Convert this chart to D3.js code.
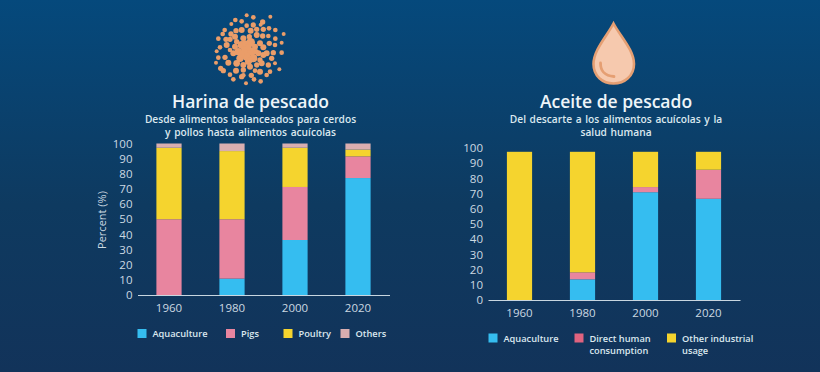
<!DOCTYPE html>
<html>
<head>
<meta charset="utf-8">
<script src="https://cdnjs.cloudflare.com/ajax/libs/d3/7.8.5/d3.min.js"></script>
<style>
  html, body { margin: 0; padding: 0; background: #0f3459; }
  svg { display: block; font-family: "Open Sans", sans-serif; }
</style>
</head>
<body>
<svg id="chart" width="820" height="372"></svg>
<script>
const years = ['1960', '1980', '2000', '2020']
const yTicks = [0, 10, 20, 30, 40, 50, 60, 70, 80, 90, 100]

// left chart, share of each use in percent
const mealKeys = ['Aquaculture', 'Pigs', 'Poultry', 'Others']
const mealAquaculture = [0, 10.8, 36.3, 77.2]
const mealPigs = [50, 39.2, 35, 14.3]
const mealPoultry = [47.2, 45, 25.9, 4.5]
const mealOthers = [2.8, 5, 2.8, 4]

// right chart
const oilKeys = ['Aquaculture', 'Direct human', 'Other industrial']
const oilAquaculture = [0, 13.6, 70.9, 66.6]
const oilHuman = [0, 4.6, 3.4, 19.1]
const oilIndustrial = [97.5, 79.3, 23.2, 11.8]

const mealColors = ['#35bdf0', '#e8859f', '#f5d42e', '#d9aeb0']
const oilColors = ['#35bdf0', '#e8859f', '#f5d42e']
const legendOilColors = ['#35bdf0', '#e0637f', '#f5d42e']

// fish meal icon, dots as [x, y, r] at 3x
const mealDots = [
  [110,16,6],[130,22,7],[181,20,6],[76,30,7],[95,34,7],[64,42,6],[158,36,8],[130,45,8],[110,47,7],[152,44,6],
  [177,55,7],[196,60,7],[221,72,6],[44,60,7],[38,72,7],[63,72,8],[78,62,8],[95,60,9],[122,62,9],[140,58,8],
  [160,58,8],[25,86,7],[48,88,8],[60,88,8],[75,80,9],[140,75,9],[158,78,8],[175,78,7],[196,86,7],[215,98,6],
  [50,105,9],[30,112,7],[20,124,6],[195,105,7],[178,100,8],[160,112,9],[215,128,7],[190,128,8],[25,143,7],[45,142,8],
  [18,158,6],[185,145,8],[170,130,9],[208,178,6],[195,160,6],[55,158,9],[80,160,10],[32,175,8],[40,182,8],[60,194,7],
  [78,182,9],[100,196,7],[124,196,8],[150,185,9],[170,195,7],[180,185,7],[155,160,9],[70,208,7],[95,200,8],[108,220,6],
  [132,208,7],[152,214,7],[175,165,8],[120,170,9],[100,165,9],[140,165,8],[95,105,12],[122,97,13],[105,120,12],[85,125,11],
  [125,125,12],[110,140,12],[90,145,11],[130,145,12],[145,130,9],[150,100,9],[75,110,9],[70,130,9],[115,155,10],[135,110,9],
  [160,135,9],[100,85,9],[118,80,8],[80,95,8],[60,120,7],[150,150,8],[100,180,8],[135,182,7],[105,100,9],[115,112,10],
  [95,132,10],[120,150,9],[138,125,8]
]

const svg = d3.select('#chart')
const defs = svg.append('defs')
const grad = defs.append('linearGradient').attr('id', 'bg')
  .attr('x1', 0).attr('x2', 0).attr('y1', 0).attr('y2', 1)
grad.append('stop').attr('offset', '0%').attr('stop-color', '#05497c')
grad.append('stop').attr('offset', '55%').attr('stop-color', '#0e3a60')
grad.append('stop').attr('offset', '100%').attr('stop-color', '#12335a')
svg.append('rect').attr('width', 820).attr('height', 372).attr('fill', 'url(#bg)')

function drawStack(keys, columns, colors, box) {
  let rows = years.map((y, i) => {
    let row = { year: y }
    keys.forEach((k, j) => { row[k] = columns[j][i] })
    return row
  })
  let x = d3.scaleBand().domain(years).range([box.left, box.right]).paddingInner(0.6).paddingOuter(0.3)
  let y = d3.scaleLinear().domain([0, 100]).range([box.bottom, box.top])
  let stack = d3.stack().keys(keys)(rows)
  let g = svg.append('g')

  g.selectAll('g.layer')
    .data(stack)
    .join('g')
    .attr('class', 'layer')
    .attr('fill', (d, i) => colors[i])
    .selectAll('rect')
    .data(d => d)
    .join('rect')
    .attr('x', d => x(d.data.year))
    .attr('y', d => y(d[1]))
    .attr('width', x.bandwidth())
    .attr('height', d => y(d[0]) - y(d[1]))

  let yAxis = d3.axisLeft(y).tickValues(yTicks).tickSize(0).tickPadding(0)
  g.append('g')
    .attr('transform', `translate(${box.left - 5},0)`)
    .call(yAxis)
    .attr('font-family', null)
    .call(a => a.select('.domain').remove())
    .selectAll('text')
    .attr('fill', '#ccd9e2')
    .attr('font-size', 11.5)

  let xAxis = d3.axisBottom(x).tickSize(0).tickPadding(9)
  g.append('g')
    .attr('transform', `translate(0,${box.bottom})`)
    .call(xAxis)
    .attr('font-family', null)
    .call(a => a.select('.domain').attr('stroke', '#c8d6e0').attr('stroke-width', 1.2))
    .selectAll('text')
    .attr('fill', '#ccd9e2')
    .attr('font-size', 11.5)
}

drawStack(mealKeys, [mealAquaculture, mealPigs, mealPoultry, mealOthers], mealColors,
  { left: 137.5, right: 389.5, top: 143.5, bottom: 295 })
drawStack(oilKeys, [oilAquaculture, oilHuman, oilIndustrial], oilColors,
  { left: 488, right: 740, top: 148, bottom: 300 })

svg.append('text')
  .attr('transform', 'translate(106,220) rotate(-90)')
  .attr('text-anchor', 'middle')
  .attr('fill', '#ccd9e2')
  .attr('font-size', 11)
  .text('Percent (%)')

function heading(cx, y, title, lines) {
  svg.append('text').attr('x', cx).attr('y', y)
    .attr('text-anchor', 'middle').attr('fill', '#eef5f9')
    .attr('font-size', 17.5).attr('font-weight', 600)
    .text(title)
  lines.forEach((t, i) => {
    svg.append('text').attr('x', cx).attr('y', y + 15 + i * 12.5)
      .attr('text-anchor', 'middle').attr('fill', '#dbe8ef')
      .attr('font-size', 10.2).attr('font-weight', 600)
      .attr('word-spacing', 1)
      .text(t)
  })
}
heading(250.5, 108, 'Harina de pescado',
  ['Desde alimentos balanceados para cerdos', 'y pollos hasta alimentos acuícolas'])
heading(616, 108, 'Aceite de pescado',
  ['Del descarte a los alimentos acuícolas y la', 'salud humana'])

function legend(items, y) {
  items.forEach(d => {
    svg.append('rect').attr('x', d.x).attr('y', y - 4.5)
      .attr('width', 9).attr('height', 9).attr('fill', d.color)
    d.lines.forEach((t, i) => {
      svg.append('text').attr('x', d.x + 15).attr('y', y + 3.5 + i * 12.5)
        .attr('fill', '#dbe8ef').attr('font-size', 9.25).attr('font-weight', 600)
        .text(t)
    })
  })
}
legend([
  { x: 137.5, color: mealColors[0], lines: ['Aquaculture'] },
  { x: 226, color: mealColors[1], lines: ['Pigs'] },
  { x: 283.5, color: mealColors[2], lines: ['Poultry'] },
  { x: 340.5, color: mealColors[3], lines: ['Others'] }
], 333.5)
legend([
  { x: 488.5, color: legendOilColors[0], lines: ['Aquaculture'] },
  { x: 574.5, color: legendOilColors[1], lines: ['Direct human', 'consumption'] },
  { x: 667, color: legendOilColors[2], lines: ['Other industrial', 'usage'] }
], 338)

// fish meal icon
svg.append('g')
  .attr('transform', 'translate(210,10) scale(0.3333)')
  .attr('fill', '#ea9d69')
  .selectAll('circle')
  .data(mealDots)
  .join('circle')
  .attr('cx', d => d[0])
  .attr('cy', d => d[1])
  .attr('r', d => d[2])

// oil drop icon
svg.append('path')
  .attr('d', 'M613.5,23.5 C607,36 593.5,50 593.5,64 C593.5,76 602.5,83.5 613.5,83.5 C624.5,83.5 634,76 634,64 C634,50 620,36 613.5,23.5 Z')
  .attr('fill', '#f6c9ae').attr('stroke', '#e59f73').attr('stroke-width', 2.6)
svg.append('path')
  .attr('d', 'M600.5,63 C600.5,71 604,75.5 614,76.5')
  .attr('fill', 'none').attr('stroke', '#e59f73').attr('stroke-width', 2.8).attr('stroke-linecap', 'round')
</script>
</body>
</html>
